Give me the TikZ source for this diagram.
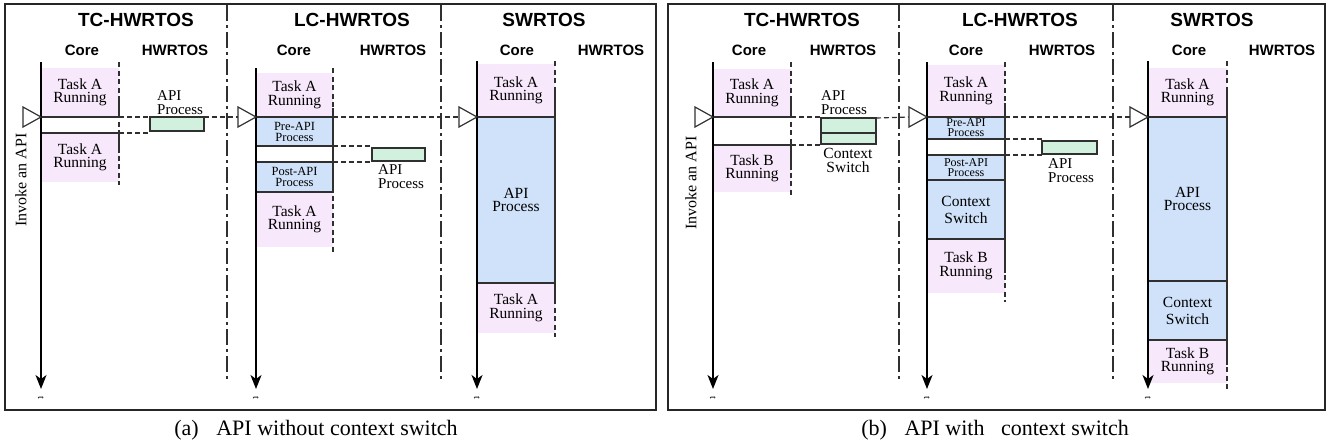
\documentclass[tikz,border=0pt]{standalone}
\usepackage{fontspec}
\setmainfont{Liberation Serif}
\newfontfamily\headfont{Liberation Sans}
\usetikzlibrary{arrows.meta}
\definecolor{taskpink}{HTML}{F8E8FB}
\definecolor{procblue}{HTML}{CFE2FA}
\definecolor{hwgreen}{HTML}{D1F0DE}
\definecolor{edge}{HTML}{303030}
\begin{document}
\begin{tikzpicture}[x=1pt,y=-1pt,
  seg/.style={inner sep=0pt, outer sep=0pt, anchor=north west, align=center,
    font=\fontsize{15.5}{13.5}\selectfont},
  taskseg/.style={seg, fill=taskpink},
  procseg/.style={seg, fill=procblue, draw=edge, line width=1.8pt},
  smallproc/.style={procseg, font=\fontsize{12.5}{11}\selectfont},
  hwseg/.style={seg, fill=hwgreen, draw=edge, line width=1.6pt},
  title/.style={font=\headfont\bfseries\fontsize{19}{19}\selectfont, inner sep=0pt},
  colhead/.style={font=\headfont\bfseries\fontsize{15}{15}\selectfont, inner sep=0pt},
  note/.style={inner sep=0pt, align=left, font=\fontsize{15}{14}\selectfont},
  invoke/.style={rotate=90, inner sep=0pt, font=\fontsize{16}{16}\selectfont},
  tmark/.style={rotate=-90, inner sep=0pt, font=\fontsize{10}{10}\selectfont},
  caption/.style={inner sep=0pt, font=\fontsize{22}{22}\selectfont},
  frame/.style={draw=black!85, line width=1.3pt},
  divider/.style={draw=edge, line width=1.3pt, dash pattern=on 16pt off 4pt on 3pt off 4pt},
  timeaxis/.style={draw=black, line width=1.5pt, -{Stealth[length=14pt,width=11pt,inset=4pt]}},
  borderdash/.style={draw=edge, line width=1.6pt, dash pattern=on 5pt off 3.5pt},
  bordersolid/.style={draw=edge, line width=1.8pt},
  link/.style={draw=edge, line width=1.2pt, dash pattern=on 5pt off 3pt},
  trig/.style={draw=edge, fill=white, line width=1.2pt, line join=miter}
]
\useasboundingbox (0,0) rectangle (1328,447);

% ================= panel (a): API without context switch =================
\draw[frame] (5,4) rectangle (656,410);
\draw[divider] (227,5) -- (227,382);
\draw[divider] (441,5) -- (441,382);

\node[title] (ta1) at (136,20) {TC-HWRTOS};
\node[title] (ta2) at (352,20) {LC-HWRTOS};
\node[title] (ta3) at (544,20) {SWRTOS};
\node[colhead] (ca1) at (82,50) {Core};
\node[colhead] (ha1) at (175,50) {HWRTOS};
\node[colhead] (ca2) at (294,50) {Core};
\node[colhead] (ha2) at (393,50) {HWRTOS};
\node[colhead] (ca3) at (517,50) {Core};
\node[colhead] (ha3) at (611,50) {HWRTOS};

% TC-HWRTOS core column
\node[taskseg, minimum width=78, minimum height=49] (aTC1) at (41,68) {Task A\\Running};
\node[taskseg, minimum width=78, minimum height=49] (aTC2) at (41,133) {Task A\\Running};
\draw[borderdash] (119,62) -- (119,185);
\draw[bordersolid] (119,98) -- (aTC1.south east) -- (aTC1.south west);
\draw[bordersolid] (aTC2.north west) -- (aTC2.north east) -- (119,153);
\node[hwseg, minimum width=54, minimum height=14] (aTCapi) at (150,117) {};
\node[note, anchor=south west] (aTCnote) at (157,115) {API\\Process};

% LC-HWRTOS core column
\node[taskseg, minimum width=77, minimum height=44] (aLC1) at (256,73) {Task A\\Running};
\node[taskseg, minimum width=77, minimum height=55] (aLC4) at (256,192) {Task A\\Running};
\draw[borderdash] (333,68) -- (333,253);
\draw[bordersolid] (333,108) -- (333,192);
\node[smallproc, minimum width=77, minimum height=29] (aLC2) at (256,117) {Pre-API\\Process};
\node[smallproc, minimum width=77, minimum height=30] (aLC3) at (256,162) {Post-API\\Process};
\node[hwseg, minimum width=53, minimum height=13] (aLCapi) at (372,148) {};
\node[note, anchor=south west] (aLCnote) at (378,189) {API\\Process};

% SWRTOS core column
\node[taskseg, minimum width=78, minimum height=53] (aSW1) at (477,64) {Task A\\Running};
\node[taskseg, minimum width=78, minimum height=50] (aSW3) at (477,283) {Task A\\Running};
\draw[borderdash] (555,61) -- (555,337);
\draw[bordersolid] (555,90) -- (555,300);
\node[procseg, minimum width=78, minimum height=166] (aSW2) at (477,117) {API\\Process};

% time axes
\coordinate (aAx1s) at (41,62);   \coordinate (aAx1e) at (41,389);
\coordinate (aAx2s) at (256,68);  \coordinate (aAx2e) at (256,389);
\coordinate (aAx3s) at (477,61);  \coordinate (aAx3e) at (477,389);
\draw[timeaxis] (aAx1s) -- (aAx1e);
\draw[timeaxis] (aAx2s) -- (aAx2e);
\draw[timeaxis] (aAx3s) -- (aAx3e);
\node[tmark] (aT1) at (41,398) {t};
\node[tmark] (aT2) at (256,398) {t};
\node[tmark] (aT3) at (477,398) {t};

% API invocation markers and hand-offs
\coordinate (aTip1) at (41,117);
\coordinate (aTip2) at (256,117);
\coordinate (aTip3) at (477,117);
\draw[link] (aTC1.south east) -- (aTCapi.north west);
\draw[link] (aTC2.north east) -- (aTC2.north east -| aTCapi.west);
\draw[link] (aTCapi.north east) -- ([xshift=-18pt]aTip2);
\draw[link] (aLC2.south east) -- (aLC2.south east -| aLCapi.west);
\draw[link] (aLC3.north east) -- (aLC3.north east -| aLCapi.west);
\draw[link] (aLC2.north east) -- ([xshift=-18pt]aTip3);
\draw[trig] (aTip1) -- ++(-18,-10) -- ++(0,20) -- cycle;
\draw[trig] (aTip2) -- ++(-18,-10) -- ++(0,20) -- cycle;
\draw[trig] (aTip3) -- ++(-18,-10) -- ++(0,20) -- cycle;
\node[invoke] (aInv) at (21,180) {Invoke an API};

\node[caption] (capA) at (316,430) {(a)\hspace{0.8em}API without context switch};

% ================= panel (b): API with context switch =================
\draw[frame] (668,4) rectangle (1325,410);
\draw[divider] (899,5) -- (899,382);
\draw[divider] (1113,5) -- (1113,382);

\node[title] (tb1) at (802,20) {TC-HWRTOS};
\node[title] (tb2) at (1020,20) {LC-HWRTOS};
\node[title] (tb3) at (1212,20) {SWRTOS};
\node[colhead] (cb1) at (749,50) {Core};
\node[colhead] (hb1) at (843,50) {HWRTOS};
\node[colhead] (cb2) at (966,50) {Core};
\node[colhead] (hb2) at (1062,50) {HWRTOS};
\node[colhead] (cb3) at (1189,50) {Core};
\node[colhead] (hb3) at (1282,50) {HWRTOS};

% TC-HWRTOS core column
\node[taskseg, minimum width=78, minimum height=48] (bTC1) at (713,69) {Task A\\Running};
\node[taskseg, minimum width=78, minimum height=47] (bTC2) at (713,145) {Task B\\Running};
\draw[borderdash] (791,62) -- (791,197);
\draw[bordersolid] (791,96) -- (bTC1.south east) -- (bTC1.south west);
\draw[bordersolid] (bTC2.north west) -- (bTC2.north east) -- (791,170);
\node[hwseg, minimum width=55, minimum height=15] (bTCapi) at (821,118) {};
\node[hwseg, minimum width=55, minimum height=11] (bTCcs) at (821,133) {};
\node[note, anchor=south west] (bTCnote) at (821,115) {API\\Process};
\node[note, anchor=south, align=center, font=\fontsize{15.5}{14}\selectfont] (bTCcsnote) at (848,173) {Context\\Switch};

% LC-HWRTOS core column
\node[taskseg, minimum width=78, minimum height=52] (bLC1) at (927,65) {Task A\\Running};
\node[taskseg, minimum width=78, minimum height=54] (bLC5) at (927,239) {Task B\\Running};
\draw[borderdash] (1005,62) -- (1005,302);
\draw[bordersolid] (1005,103) -- (1005,273);
\node[smallproc, font=\fontsize{12}{10}\selectfont, minimum width=78, minimum height=22] (bLC2) at (927,117) {Pre-API\\Process};
\node[smallproc, font=\fontsize{12}{10}\selectfont, minimum width=78, minimum height=25] (bLC3) at (927,155) {Post-API\\Process};
\node[procseg, font=\fontsize{15.5}{17}\selectfont, minimum width=78, minimum height=59] (bLC4) at (927,180) {Context\\Switch};
\node[hwseg, minimum width=55, minimum height=13] (bLCapi) at (1042,141) {};
\node[note, anchor=south west] (bLCnote) at (1048,183) {API\\Process};

% SWRTOS core column
\node[taskseg, minimum width=79, minimum height=49] (bSW1) at (1148,68) {Task A\\Running};
\node[taskseg, minimum width=79, minimum height=43] (bSW4) at (1148,340) {Task B\\Running};
\draw[borderdash] (1227,61) -- (1227,389);
\draw[bordersolid] (1227,90) -- (1227,365);
\node[procseg, minimum width=79, minimum height=164] (bSW2) at (1148,117) {API\\Process};
\node[procseg, font=\fontsize{15.5}{17}\selectfont, minimum width=79, minimum height=59] (bSW3) at (1148,281) {Context\\Switch};

% time axes
\coordinate (bAx1s) at (713,62);   \coordinate (bAx1e) at (713,389);
\coordinate (bAx2s) at (927,62);   \coordinate (bAx2e) at (927,389);
\coordinate (bAx3s) at (1148,61);  \coordinate (bAx3e) at (1148,389);
\draw[timeaxis] (bAx1s) -- (bAx1e);
\draw[timeaxis] (bAx2s) -- (bAx2e);
\draw[timeaxis] (bAx3s) -- (bAx3e);
\node[tmark] (bT1) at (713,398) {t};
\node[tmark] (bT2) at (927,398) {t};
\node[tmark] (bT3) at (1148,398) {t};

% API invocation markers and hand-offs
\coordinate (bTip1) at (713,117);
\coordinate (bTip2) at (927,117);
\coordinate (bTip3) at (1148,117);
\draw[link] (bTC1.south east) -- (bTC1.south east -| bTCapi.west);
\draw[link] (bTC2.north east) -- (bTC2.north east -| bTCcs.west);
\draw[link] (bTCapi.north east) -- ([xshift=-18pt]bTip2);
\draw[link] (bLC2.south east) -- (bLC2.south east -| bLCapi.west);
\draw[link] (bLC3.north east) -- (bLC3.north east -| bLCapi.west);
\draw[link] (bLC2.north east) -- ([xshift=-18pt]bTip3);
\draw[trig] (bTip1) -- ++(-18,-10) -- ++(0,20) -- cycle;
\draw[trig] (bTip2) -- ++(-18,-10) -- ++(0,20) -- cycle;
\draw[trig] (bTip3) -- ++(-18,-10) -- ++(0,20) -- cycle;
\node[invoke] (bInv) at (691,183) {Invoke an API};

\node[caption] (capB) at (995,430) {(b)\hspace{0.8em}API with\hspace{0.5em} context switch};
\end{tikzpicture}
\end{document}
